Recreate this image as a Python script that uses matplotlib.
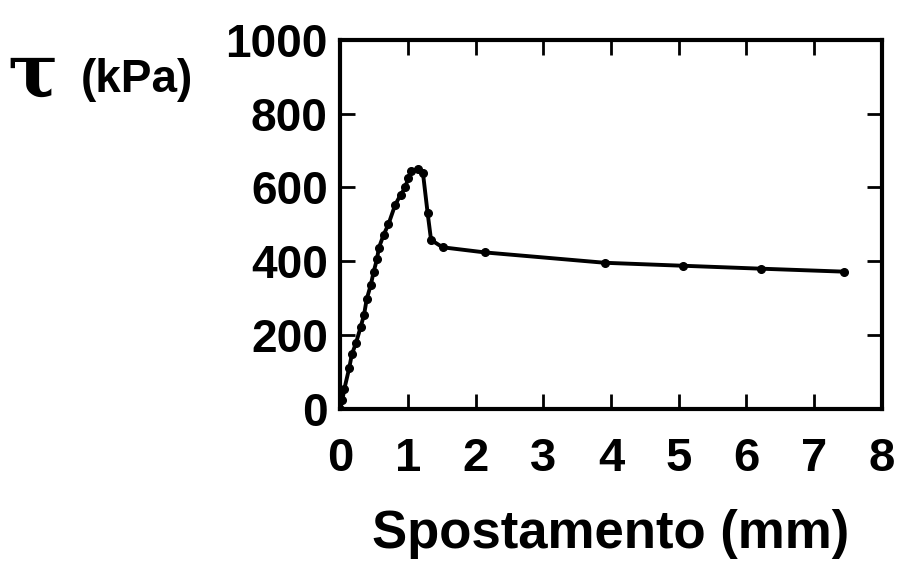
import matplotlib
matplotlib.use('Agg')
import matplotlib.pyplot as plt

# shear stress vs displacement, read point by point
spost = [0.0, 0.03, 0.06, 0.13, 0.17, 0.23, 0.30, 0.35, 0.39, 0.45, 0.49, 0.54,
         0.57, 0.64, 0.71, 0.81, 0.89, 0.96, 1.00, 1.05, 1.15, 1.22, 1.29, 1.34,
         1.51, 2.14, 3.91, 5.06, 6.22, 7.44]
tau = [0, 25, 55, 110, 148, 178, 222, 255, 298, 336, 370, 405,
       437, 472, 500, 553, 580, 600, 625, 644, 650, 640, 530, 458,
       438, 424, 396, 388, 380, 372]

xticks = [0, 1, 2, 3, 4, 5, 6, 7, 8]
yticks = [0, 200, 400, 600, 800, 1000]

plt.rcParams['font.family'] = ['Liberation Sans', 'DejaVu Sans']
plt.rcParams['font.weight'] = 'bold'

fig = plt.figure(figsize=(8.98, 5.61), dpi=100)
ax = fig.add_axes([0.379, 0.271, 0.603, 0.658])

ax.plot(spost, tau, color='black', linewidth=2.8, marker='o', markersize=5.5)

ax.set_xlim(0, 8)
ax.set_ylim(0, 1000)
ax.set_xticks(xticks)
ax.set_yticks(yticks)
ax.set_xticklabels([str(v) for v in xticks], fontsize=34, fontweight='bold')
ax.set_yticklabels([str(v) for v in yticks], fontsize=33, fontweight='bold')

ax.tick_params(direction='in', length=11, width=2, top=True, right=True)
ax.tick_params(axis='x', pad=20)
ax.tick_params(axis='y', pad=9)
for s in ax.spines.values():
    s.set_linewidth(3)

ax.set_xlabel('Spostamento (mm)', fontsize=38, fontweight='bold', labelpad=20)

fig.text(0.036, 0.865, 'τ', fontsize=54, family='DejaVu Serif',
         ha='center', va='center')
fig.text(0.09, 0.858, '(kPa)', fontsize=33, fontweight='bold',
         ha='left', va='center')

fig.savefig('out.png', dpi=100, facecolor='white')
